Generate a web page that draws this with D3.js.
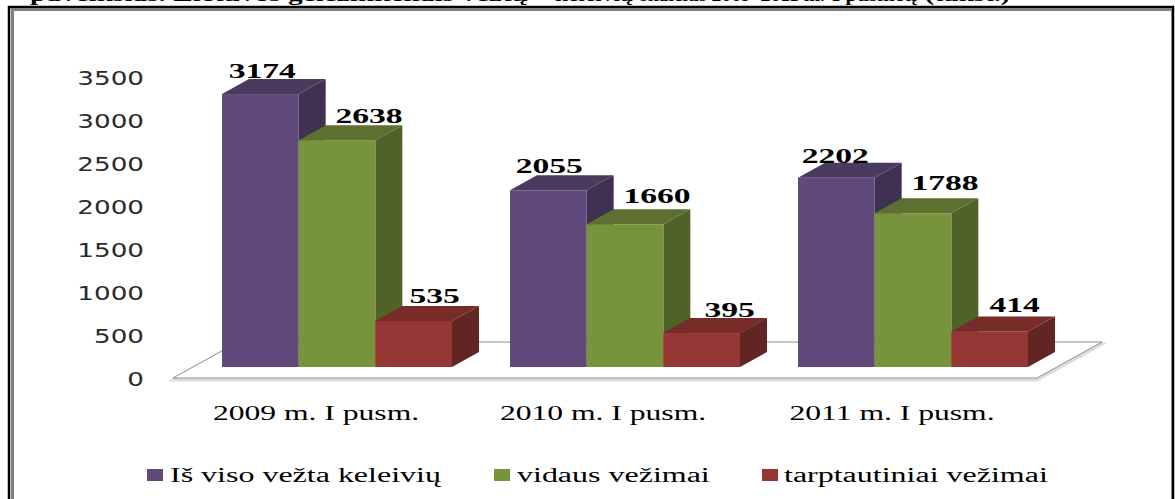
<!DOCTYPE html>
<html><head><meta charset="utf-8">
<script src="https://cdn.jsdelivr.net/npm/d3@7"></script>
<style>html,body{margin:0;padding:0;background:#fff}svg{display:block}</style>
</head><body><div id="c"></div>
<script>
const categories = ["2009 m. I pusm.", "2010 m. I pusm.", "2011 m. I pusm."];
const seriesNames = ["Iš viso vežta keleivių", "vidaus vežimai", "tarptautiniai vežimai"];
const total = [3174, 2055, 2202];
const domestic = [2638, 1660, 1788];
const international = [535, 395, 414];
const yTicks = [0, 500, 1000, 1500, 2000, 2500, 3000, 3500];
const heading = ["paveikslas. Lietuvos geležinkeliais vežtų", "keleivių", "skaičius 2009–2011 m.", "I pusmetį", "(tūkst.)"];

const W = 1175, H = 499, depthX = 27, depthY = 15, SX = 1.68;
const palette = [
  {front:"#604a7b", top:"#4a3a5e", side:"#403152"},
  {front:"#77933c", top:"#5d7030", side:"#4f6228"},
  {front:"#953735", top:"#772c2a", side:"#632523"}
];
const values = [total, domestic, international];
const labelDx = [[2,1,-1],[32,32,32],[21,28,25]];
const labelDy = [[16,17,15],[17,21,23],[18,16,19]];

const svg = d3.select("#c").append("svg").attr("width", W).attr("height", H);
const serif = "'Liberation Serif','Times New Roman',serif";
const sans = "'DejaVu Sans',sans-serif";

function stretched(sel, x, y, txt, o) {
  return sel.append("text").attr("transform", `translate(${x},${y}) scale(${o.sx||SX},1)`)
    .attr("text-anchor", o.anchor||"middle").attr("font-family", o.family||serif)
    .attr("font-size", o.size).attr("font-weight", o.weight||"normal").attr("fill", "#000").text(txt);
}

// clipped heading above the frame
const headX = [30, 555, 640, 832, 925], headW = [498, 78, 185, 85, 85];
heading.forEach((t,i)=>{
  svg.append("text").attr("x", headX[i]).attr("y", 1).attr("font-family", serif)
    .attr("font-weight","bold").attr("font-size",19).attr("textLength", headW[i])
    .attr("lengthAdjust","spacingAndGlyphs").text(t);
});
svg.append("rect").attr("x",0).attr("y",7).attr("width",W).attr("height",H).attr("fill","#fff");

// frame
svg.append("path").attr("d",`M9,${H} V7 H1173 V${H}`).attr("fill","none").attr("stroke","#000").attr("stroke-width",2.5);
svg.append("path").attr("d",`M12.5,${H} V9.5 H1171.5`).attr("fill","none").attr("stroke","#808080").attr("stroke-width",3);
svg.append("line").attr("x1",1171.5).attr("x2",1171.5).attr("y1",9).attr("y2",H).attr("stroke","#808080").attr("stroke-width",1);

const yBar = d3.scaleLinear().domain([0,3500]).range([367,66]);
const x0 = d3.scalePoint().domain(categories).range([222,798]);
const x1 = d3.scaleBand().domain(seriesNames).range([0,230]);

// floor
const fy0 = yBar(0)+11, fy1 = yBar(0)-25;
const floor = [[173,fy0],[238,fy1],[1102,fy1],[1037,fy0]];
svg.append("polygon").attr("points",floor.map(p=>[p[0],p[1]+2].join(",")).join(" "))
  .attr("fill","none").attr("stroke","#dcdcdc").attr("stroke-width",3);
svg.append("polygon").attr("points",floor.join(" ")).attr("fill","#fff").attr("stroke","#8c8c8c").attr("stroke-width",1);

// axis
const yAxisScale = d3.scaleLinear().domain([0,3500]).range([378,77]);
const axis = svg.append("g").attr("transform","translate(144,0)")
  .call(d3.axisLeft(yAxisScale).tickValues(yTicks).tickSize(0).tickPadding(0).tickFormat(d3.format("d")));
axis.select(".domain").remove();
axis.selectAll("text").attr("x",null).attr("dy",null).attr("y",7)
  .attr("transform","scale(1.38,1)").attr("text-anchor","end")
  .attr("font-family",sans).attr("font-size",19).attr("fill","#2a2a2a");

// bars
const bw = x1.bandwidth();
categories.forEach((c,ci)=>{
  seriesNames.forEach((s,si)=>{
    const x = x0(c)+x1(s), v = values[si][ci], t = yBar(v), b = yBar(0), col = palette[si];
    const g = svg.append("g");
    g.append("polygon").attr("fill",col.side)
      .attr("points",[[x+bw,t],[x+bw+depthX,t-depthY],[x+bw+depthX,b-depthY],[x+bw,b]].join(" "));
    g.append("polygon").attr("fill",col.top)
      .attr("points",[[x,t],[x+depthX,t-depthY],[x+bw+depthX,t-depthY],[x+bw,t]].join(" "));
    g.append("rect").attr("x",x).attr("y",t).attr("width",bw).attr("height",b-t).attr("fill",col.front);
  });
});
// value labels
const labels = svg.append("g");
categories.forEach((c,ci)=>{
  seriesNames.forEach((s,si)=>{
    const x = x0(c)+x1(s)+bw/2+labelDx[si][ci], y = yBar(values[si][ci])-labelDy[si][ci];
    stretched(labels,x,y,values[si][ci],{size:20,weight:"bold"});
  });
});
// redraw top of the 395 bar over its label, as in the reference
{
  const x = x0(categories[1])+x1(seriesNames[2]), t = yBar(values[2][1]);
  svg.append("polygon").attr("fill",palette[2].top)
    .attr("points",[[x,t],[x+depthX,t-depthY],[x+bw+depthX,t-depthY],[x+bw,t]].join(" "));
}

// category labels
const catCx = [316, 603, 892];
categories.forEach((c,i)=>stretched(svg,catCx[i],420,c,{size:20,sx:1.58}));

// legend
const legX = [147, 494, 762], legTx = [170, 517, 784];
seriesNames.forEach((s,i)=>{
  svg.append("rect").attr("x",legX[i]).attr("y",469).attr("width",16).attr("height",12).attr("fill",palette[i].front);
  stretched(svg,legTx[i],482,s,{size:20,sx:1.6,anchor:"start"});
});
</script></body></html>
